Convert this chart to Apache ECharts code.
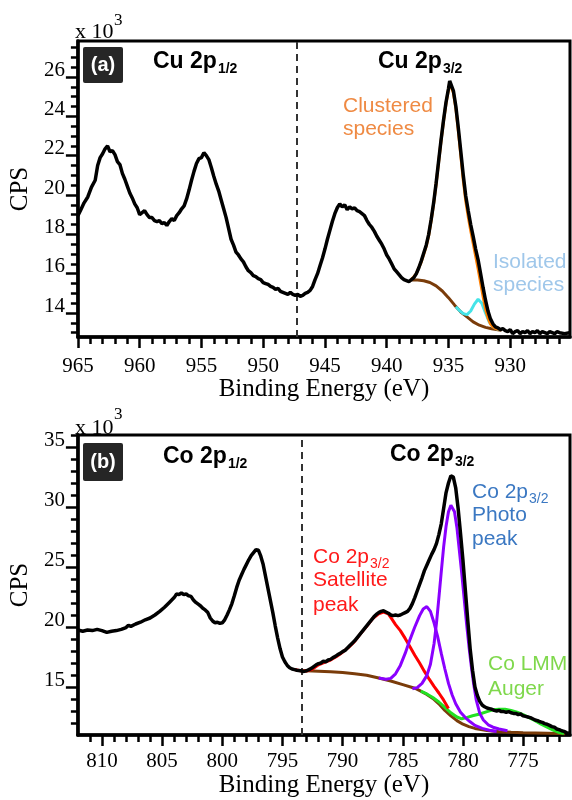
<!DOCTYPE html>
<html>
<head>
<meta charset="utf-8">
<script src="https://cdn.jsdelivr.net/npm/echarts@6/dist/echarts.min.js"></script>
<style>
html, body { margin: 0; padding: 0; background: #fff; }
#main { width: 572px; height: 800px; }
</style>
</head>
<body>
<div id="main"></div>
<script>
// ---- (a) Cu 2p : [binding energy (eV), CPS x10^3] ----
var cuTotal = [
  [965.0,18.95],[964.8,19.2],[964.5,19.6],[964.2,19.9],[963.9,20.4],[963.6,20.75],[963.4,21.5],[963.2,21.9],
  [963.0,22.1],[962.8,22.35],[962.6,22.5],[962.4,22.2],[962.2,22.25],[962.0,22.05],[961.8,21.7],[961.6,21.55],
  [961.4,21.1],[961.2,20.8],[961.0,20.45],[960.8,20.1],[960.6,19.85],[960.4,19.55],[960.2,19.35],[960.0,19.0],
  [959.8,19.1],[959.6,19.2],[959.4,19.0],[959.2,18.85],[959.0,18.85],[958.8,18.7],[958.6,18.65],[958.4,18.7],
  [958.2,18.55],[958.0,18.6],[957.8,18.45],[957.6,18.65],[957.4,18.8],[957.2,18.7],[957.0,18.95],[956.8,19.1],
  [956.6,19.3],[956.4,19.45],[956.2,19.8],[956.0,20.25],[955.8,20.75],[955.6,21.2],[955.4,21.6],[955.2,21.85],
  [955.0,21.9],[954.8,22.15],[954.6,22.0],[954.4,21.8],[954.2,21.4],[954.0,20.95],[953.8,20.55],[953.6,20.2],
  [953.4,19.75],[953.2,19.3],[953.0,18.85],[952.8,18.3],[952.6,17.75],[952.4,17.45],[952.2,17.1],[952.0,16.95],
  [951.8,16.75],[951.6,16.6],[951.4,16.35],[951.2,16.15],[951.0,16.05],[950.8,15.9],[950.6,15.85],[950.4,15.75],
  [950.2,15.7],[950.0,15.55],[949.8,15.5],[949.6,15.45],[949.4,15.35],[949.2,15.3],[949.0,15.2],[948.8,15.25],
  [948.6,15.1],[948.4,15.05],[948.2,15.0],[948.0,14.95],[947.8,15.05],[947.6,14.95],[947.4,14.9],[947.2,14.95],
  [947.0,14.85],[946.8,14.9],[946.6,15.0],[946.4,15.05],[946.2,15.15],[946.0,15.35],[945.8,15.7],[945.6,16.0],
  [945.4,16.4],[945.2,16.8],[945.0,17.25],[944.8,17.75],[944.6,18.2],[944.4,18.65],[944.2,19.05],[944.0,19.35],
  [943.8,19.55],[943.6,19.4],[943.4,19.5],[943.2,19.25],[943.0,19.4],[942.8,19.3],[942.6,19.35],[942.4,19.2],
  [942.2,19.15],[942.0,19.05],[941.8,18.95],[941.6,18.7],[941.4,18.5],[941.2,18.35],[941.0,18.15],[940.8,17.9],
  [940.6,17.7],[940.4,17.5],[940.2,17.25],[940.0,16.95],[939.8,16.75],[939.6,16.5],[939.4,16.25],[939.2,16.1],
  [939.0,15.95],[938.8,15.8],[938.6,15.7],[938.4,15.65],[938.2,15.6],[938.0,15.7],[937.8,15.8],[937.6,16.0],
  [937.4,16.3],[937.2,16.65],[937.0,17.05],[936.8,17.45],[936.6,18.0],[936.4,18.75],[936.2,19.6],[936.0,20.6],
  [935.8,21.7],[935.6,22.8],[935.4,23.8],[935.2,24.7],[935.0,25.4],[934.9,25.8],[934.8,25.75],[934.6,25.3],
  [934.4,24.5],[934.2,23.4],[934.0,22.2],[933.8,21.0],[933.6,19.95],[933.4,19.2],[933.2,18.5],[933.0,17.9],
  [932.8,17.25],[932.6,16.7],[932.4,16.0],[932.2,15.3],[932.0,14.65],[931.8,14.1],[931.6,13.7],[931.4,13.45],
  [931.2,13.3],[931.0,13.25],[930.8,13.15],[930.6,13.2],[930.4,13.1],[930.2,13.05],[930.0,13.15],[929.8,12.95],
  [929.6,13.05],[929.4,13.1],[929.2,12.95],[929.0,13.05],[928.8,13.0],[928.6,13.1],[928.4,12.95],[928.2,13.05],
  [928.0,13.0],[927.8,13.1],[927.6,12.95],[927.4,13.05],[927.2,13.0],[927.0,12.95],[926.8,13.05],[926.6,13.0],
  [926.4,12.95],[926.2,13.05],[926.0,13.0],[925.6,12.95],[925.2,13.0]
];
var cuClustered = [
  [938.0,15.7],[937.8,15.85],[937.6,16.0],[937.4,16.3],[937.2,16.6],[937.0,17.0],[936.8,17.4],[936.6,17.95],
  [936.4,18.7],[936.2,19.55],[936.0,20.55],[935.8,21.65],[935.6,22.75],[935.4,23.75],[935.2,24.65],[935.0,25.35],
  [934.9,25.7],[934.8,25.65],[934.6,25.2],[934.4,24.4],[934.2,23.25],[934.0,22.0],[933.8,20.75],[933.6,19.7],
  [933.4,18.9],[933.2,18.2],[933.0,17.55],[932.8,16.9],[932.6,16.25],[932.4,15.55],[932.2,14.85],[932.0,14.2],
  [931.8,13.75],[931.6,13.45],[931.4,13.3],[931.2,13.22],[931.0,13.18],[930.8,13.15]
];
var cuIsolated = [
  [934.4,14.32],[934.1,14.12],[933.8,13.97],[933.5,13.92],[933.2,14.1],[932.9,14.45],[932.6,14.7],[932.3,14.5],
  [932.0,14.0],[931.7,13.55],[931.4,13.3],[931.1,13.2],[930.8,13.14]
];
var cuBackground = [
  [938.0,15.68],[937.5,15.68],[937.0,15.64],[936.5,15.55],[936.0,15.38],[935.5,15.12],[935.0,14.78],[934.5,14.4],
  [934.0,14.05],[933.5,13.8],[933.0,13.55],[932.5,13.38],[932.0,13.27],[931.5,13.2],[931.0,13.15],[930.7,13.12]
];
var cuSplit = 947.3;
var cuXMajor = [965, 960, 955, 950, 945, 940, 935, 930];
var cuYMajor = [14, 16, 18, 20, 22, 24, 26];

// ---- (b) Co 2p ----
var coTotal = [
  [812.0,19.75],[811.6,19.65],[811.2,19.75],[810.8,19.7],[810.4,19.8],[810.0,19.7],[809.6,19.55],[809.2,19.65],
  [808.8,19.7],[808.4,19.8],[808.0,19.95],[807.8,20.15],[807.6,20.05],[807.2,20.25],[806.8,20.4],[806.4,20.6],
  [806.0,20.75],[805.6,21.0],[805.2,21.3],[804.8,21.65],[804.4,22.05],[804.0,22.45],[803.8,22.75],[803.6,22.7],
  [803.4,22.85],[803.2,22.7],[803.0,22.75],[802.8,22.6],[802.6,22.55],[802.4,22.25],[802.2,22.05],[802.0,21.9],
  [801.8,21.75],[801.6,21.55],[801.4,21.4],[801.2,21.2],[801.0,20.75],[800.8,20.5],[800.6,20.35],[800.4,20.4],
  [800.2,20.3],[800.0,20.35],[799.8,20.6],[799.6,21.0],[799.4,21.45],[799.2,21.95],[799.0,22.6],[798.8,23.3],
  [798.6,23.9],[798.4,24.35],[798.2,24.8],[798.0,25.2],[797.8,25.6],[797.6,25.95],[797.4,26.2],[797.2,26.45],
  [797.1,26.6],[797.0,26.4],[796.8,25.9],[796.6,25.2],[796.4,24.2],[796.2,23.2],[796.0,22.2],[795.8,21.2],
  [795.6,20.1],[795.4,19.1],[795.2,18.2],[795.0,17.5],[794.8,17.1],[794.6,16.8],[794.4,16.6],[794.2,16.5],
  [794.0,16.45],[793.8,16.4],[793.5,16.35],[793.2,16.3],[793.0,16.35],[792.8,16.45],[792.6,16.55],[792.4,16.7],
  [792.2,16.85],[792.0,16.95],[791.8,17.0],[791.6,17.15],[791.4,17.1],[791.2,17.25],[791.0,17.3],[790.8,17.45],
  [790.6,17.55],[790.4,17.7],[790.2,17.8],[790.0,17.95],[789.8,18.05],[789.6,18.25],[789.4,18.45],[789.2,18.65],
  [789.0,18.85],[788.8,19.1],[788.6,19.35],[788.4,19.6],[788.2,19.85],[788.0,20.1],[787.8,20.35],[787.6,20.6],
  [787.4,20.85],[787.2,21.05],[787.0,21.2],[786.8,21.3],[786.6,21.35],[786.4,21.25],[786.2,21.15],[786.0,21.0],
  [785.8,20.95],[785.6,21.0],[785.4,20.95],[785.2,21.0],[785.0,21.1],[784.8,21.2],[784.6,21.3],[784.4,21.55],
  [784.2,21.95],[784.0,22.45],[783.8,23.0],[783.6,23.55],[783.4,24.1],[783.2,24.7],[783.0,25.15],[782.8,25.6],
  [782.6,26.05],[782.4,26.45],[782.2,26.95],[782.0,27.7],[781.8,28.6],[781.6,29.9],[781.4,31.2],[781.2,32.0],
  [781.0,32.6],[780.9,32.7],[780.8,32.5],[780.6,31.6],[780.4,29.9],[780.2,27.8],[780.0,25.6],[779.8,23.1],
  [779.6,20.6],[779.4,18.2],[779.2,16.4],[779.0,15.0],[778.8,14.3],[778.6,13.8],[778.4,13.5],[778.2,13.35],
  [778.0,13.25],[777.8,13.2],[777.6,13.15],[777.4,13.05],[777.2,13.0],[777.0,13.05],[776.8,12.95],[776.6,12.95],
  [776.4,12.9],[776.2,12.95],[776.0,12.85],[775.8,12.8],[775.6,12.8],[775.4,12.7],[775.2,12.75],[775.0,12.6],
  [774.8,12.55],[774.6,12.5],[774.4,12.45],[774.2,12.35],[774.0,12.25],[773.8,12.2],[773.6,12.1],[773.4,12.05],
  [773.2,11.95],[773.0,11.9],[772.8,11.8],[772.6,11.7],[772.4,11.65],[772.2,11.5],[772.0,11.45],[771.8,11.35],
  [771.6,11.3],[771.4,11.2],[771.2,11.15]
];
var coSatellite = [
  [794.0,16.45],[793.5,16.36],[793.0,16.33],[792.5,16.5],[792.0,16.85],[791.5,17.05],[791.0,17.25],[790.5,17.55],
  [790.0,17.9],[789.5,18.3],[789.0,18.8],[788.5,19.45],[788.0,20.05],[787.5,20.7],[787.0,21.1],[786.6,21.25],
  [786.2,21.1],[785.9,20.65],[785.6,20.2],[785.2,19.7],[784.8,19.05],[784.4,18.35],[784.0,17.65],[783.6,17.0],
  [783.2,16.3],[782.8,15.65],[782.4,15.05],[782.0,14.5],[781.6,13.9],[781.2,13.2]
];
var coPhoto1 = [
  [787.0,15.75],[786.4,15.65],[786.0,15.72],[785.6,16.1],[785.2,16.8],[784.8,17.8],[784.4,18.95],[784.0,20.0],
  [783.6,20.95],[783.3,21.5],[783.0,21.7],[782.7,21.3],[782.4,20.35],[782.1,19.2],[781.8,17.8],[781.5,16.5],
  [781.2,15.3],[780.9,14.35],[780.6,13.6],[780.2,12.9],[779.8,12.45],[779.4,12.1],[779.0,11.8],[778.4,11.55],
  [777.8,11.4],[777.2,11.3]
];
var coPhoto2 = [
  [784.2,14.85],[783.8,14.95],[783.4,15.3],[783.0,15.95],[782.7,16.9],[782.4,18.6],[782.2,20.3],[782.0,22.4],
  [781.8,24.6],[781.6,26.7],[781.4,28.4],[781.2,29.6],[781.0,30.15],[780.9,30.2],[780.7,29.6],[780.5,28.3],
  [780.3,26.4],[780.1,24.5],[779.9,22.4],[779.7,20.3],[779.5,18.4],[779.3,16.7],[779.1,15.2],[778.9,13.95],
  [778.6,12.8],[778.3,12.25],[777.9,11.85],[777.5,11.65],[777.0,11.5],[776.3,11.35]
];
var coAuger = [
  [783.5,14.65],[783.0,14.42],[782.5,14.12],[782.0,13.75],[781.5,13.3],[781.0,12.85],[780.5,12.5],[780.1,12.35],
  [779.7,12.45],[779.2,12.6],[778.6,12.75],[778.0,12.95],[777.5,13.1],[777.0,13.15],[776.5,13.15],[776.0,13.05],
  [775.5,12.9],[775.0,12.7],[774.5,12.45],[774.0,12.2],[773.5,11.9],[773.0,11.65],[772.5,11.4],[772.0,11.2],
  [771.6,11.12]
];
var coBackground = [
  [793.5,16.36],[793.0,16.35],[792.0,16.32],[791.0,16.28],[790.0,16.2],[789.0,16.1],[788.0,15.98],[787.0,15.75],
  [786.0,15.5],[785.0,15.2],[784.0,14.9],[783.5,14.65],[783.0,14.38],[782.5,14.05],[782.0,13.6],[781.5,13.05],
  [781.0,12.6],[780.5,12.2],[780.0,11.9],[779.5,11.7],[779.0,11.55],[778.0,11.38],[777.0,11.28],[776.0,11.22],
  [775.0,11.18],[774.0,11.16],[773.0,11.14],[772.0,11.12],[771.5,11.1]
];
var coSplit = 793.4;
var coXMajor = [810, 805, 800, 795, 790, 785, 780, 775];
var coYMajor = [15, 20, 25, 30, 35];

function minorTicks(from, to, step, majors) {
  var out = [];
  for (var v = from; v <= to + 1e-9; v += step) {
    var r = Math.round(v * 10) / 10;
    if (majors.indexOf(r) < 0) out.push(r);
  }
  return out;
}

var chart = echarts.init(document.getElementById('main'));
var serif = 'Liberation Serif';
var sans = 'Liberation Sans';

function xPair(grid, min, max, majors, minors, labelMargin, nameGap) {
  return [{
    type: 'value', gridIndex: grid, position: 'bottom', inverse: true, min: min, max: max,
    axisLine: { onZero: false, lineStyle: { color: '#000', width: 3.5 } },
    axisTick: { customValues: majors, length: 11, lineStyle: { color: '#000', width: 2.5 } },
    axisLabel: { customValues: majors, color: '#000', fontFamily: serif, fontSize: 21, margin: labelMargin, lineHeight: 14 },
    splitLine: { show: false },
    name: 'Binding Energy (eV)', nameLocation: 'middle', nameGap: nameGap,
    nameTextStyle: { color: '#000', fontFamily: serif, fontSize: 25, lineHeight: 25 }
  }, {
    type: 'value', gridIndex: grid, position: 'bottom', inverse: true, min: min, max: max,
    axisLine: { show: false, onZero: false },
    axisTick: { customValues: minors, length: 7, lineStyle: { color: '#000', width: 2.5 } },
    axisLabel: { show: false }, splitLine: { show: false }
  }];
}
function yPair(grid, min, max, majors, minors) {
  return [{
    type: 'value', gridIndex: grid, position: 'left', min: min, max: max,
    axisLine: { onZero: false, lineStyle: { color: '#000', width: 3.5 } },
    axisTick: { customValues: majors, length: 12, lineStyle: { color: '#000', width: 2.5 } },
    axisLabel: { customValues: majors, color: '#000', fontFamily: serif, fontSize: 21, margin: 13,
      verticalAlign: 'bottom', lineHeight: 14 },
    splitLine: { show: false },
    name: 'CPS', nameLocation: 'middle', nameGap: 42, nameRotate: 90,
    nameTextStyle: { color: '#000', fontFamily: serif, fontSize: 25, lineHeight: 25 }
  }, {
    type: 'value', gridIndex: grid, position: 'left', min: min, max: max,
    axisLine: { show: false, onZero: false },
    axisTick: { customValues: minors, length: 7, lineStyle: { color: '#000', width: 2.5 } },
    axisLabel: { show: false }, splitLine: { show: false }
  }];
}

function curve(data, color, width, xi, yi, z) {
  return { type: 'line', data: data, xAxisIndex: xi, yAxisIndex: yi, symbol: 'none', silent: true,
    lineStyle: { color: color, width: width }, z: z };
}
function splitLine(value, xi, yi) {
  return { type: 'line', data: [], xAxisIndex: xi, yAxisIndex: yi, silent: true,
    markLine: { symbol: ['none', 'none'], silent: true, label: { show: false },
      lineStyle: { color: '#333', width: 2, type: [7, 5] }, data: [{ xAxis: value }] } };
}

function txt(x, y, text, font, color) {
  return { type: 'text', x: x, y: y, z: 100,
    style: { text: text, font: font, fill: color, align: 'left', verticalAlign: 'middle' } };
}
// main text followed by a subscript placed right after it
var measureCtx = document.createElement('canvas').getContext('2d');
function withSub(x, y, text, sub, font, subFont, color, drop) {
  measureCtx.font = font;
  var w = measureCtx.measureText(text).width;
  return [txt(x, y, text, font, color), txt(x + w + 1, y + drop, sub, subFont, color)];
}

var boldHead = 'bold 23px "' + sans + '"';
var boldSub = 'bold 14px "' + sans + '"';
var note = '21px "' + sans + '"';
var noteSub = '14px "' + sans + '"';

var labels = [
  // x10^3 multipliers
  txt(75, 32, 'x 10', '22px "' + serif + '"', '#000'),
  txt(114, 21, '3', '17px "' + serif + '"', '#000'),
  txt(75, 428, 'x 10', '22px "' + serif + '"', '#000'),
  txt(114, 415, '3', '17px "' + serif + '"', '#000'),
  // panel tags
  { type: 'rect', z: 100, shape: { x: 83, y: 47, width: 40, height: 36, r: 2 }, style: { fill: '#262626' } },
  { type: 'text', z: 101, x: 103, y: 65, style: { text: '(a)', font: 'bold 20px "' + sans + '"', fill: '#fff', align: 'center', verticalAlign: 'middle' } },
  { type: 'rect', z: 100, shape: { x: 83, y: 443, width: 40, height: 38, r: 2 }, style: { fill: '#262626' } },
  { type: 'text', z: 101, x: 103, y: 462, style: { text: '(b)', font: 'bold 20px "' + sans + '"', fill: '#fff', align: 'center', verticalAlign: 'middle' } },
  txt(343, 106, 'Clustered', note, '#ef8a43'), txt(343, 129, 'species', note, '#ef8a43'),
  txt(493, 262, 'Isolated', note, '#9fc7ea'), txt(493, 285, 'species', note, '#9fc7ea'),
  txt(472, 515, 'Photo', note, '#3b78c2'), txt(472, 539, 'peak', note, '#3b78c2'),
  txt(313, 580, 'Satellite', note, '#ff1a1a'), txt(313, 605, 'peak', note, '#ff1a1a'),
  txt(488, 664, 'Co LMM', note, '#7fd84c'), txt(488, 689, 'Auger', note, '#7fd84c')
].concat(
  withSub(153, 62, 'Cu 2p', '1/2', boldHead, boldSub, '#000', 7),
  withSub(378, 62, 'Cu 2p', '3/2', boldHead, boldSub, '#000', 7),
  withSub(163, 457, 'Co 2p', '1/2', boldHead, boldSub, '#000', 7),
  withSub(390, 455, 'Co 2p', '3/2', boldHead, boldSub, '#000', 7),
  withSub(472, 492, 'Co 2p', '3/2', note, noteSub, '#3b78c2', 7),
  withSub(313, 557, 'Co 2p', '3/2', note, noteSub, '#ff1a1a', 7)
);

option = {
  backgroundColor: '#fff',
  animation: false,
  grid: [
    { left: 76, top: 41, right: 2, height: 296, show: true, borderColor: '#000', borderWidth: 3 },
    { left: 76, top: 435, right: 2, height: 300, show: true, borderColor: '#000', borderWidth: 3 }
  ],
  xAxis: xPair(0, 925.16, 965, cuXMajor, minorTicks(926, 964, 1, cuXMajor), 22, 40)
    .concat(xPair(1, 771.1, 812, coXMajor, minorTicks(772, 811, 1, coXMajor), 19, 38)),
  yAxis: yPair(0, 12.78, 27.83, cuYMajor, minorTicks(13, 27.5, 0.5, cuYMajor))
    .concat(yPair(1, 11, 36, coYMajor, minorTicks(12, 36, 1, coYMajor))),
  series: [
    splitLine(cuSplit, 0, 0),
    curve(cuBackground, '#7a3c0a', 3, 0, 0, 2),
    curve(cuIsolated, '#45e4e8', 3, 0, 0, 3),
    curve(cuClustered, '#ff7f00', 3, 0, 0, 4),
    curve(cuTotal, '#000', 3.5, 0, 0, 5),
    splitLine(coSplit, 2, 2),
    curve(coBackground, '#7a3c0a', 3, 2, 2, 2),
    curve(coAuger, '#22e022', 3, 2, 2, 3),
    curve(coSatellite, '#ff0000', 3, 2, 2, 3),
    curve(coPhoto1, '#8a00ff', 3, 2, 2, 4),
    curve(coPhoto2, '#8a00ff', 3, 2, 2, 4),
    curve(coTotal, '#000', 3.5, 2, 2, 5)
  ],
  graphic: labels
};
chart.setOption(option);
</script>
</body>
</html>
